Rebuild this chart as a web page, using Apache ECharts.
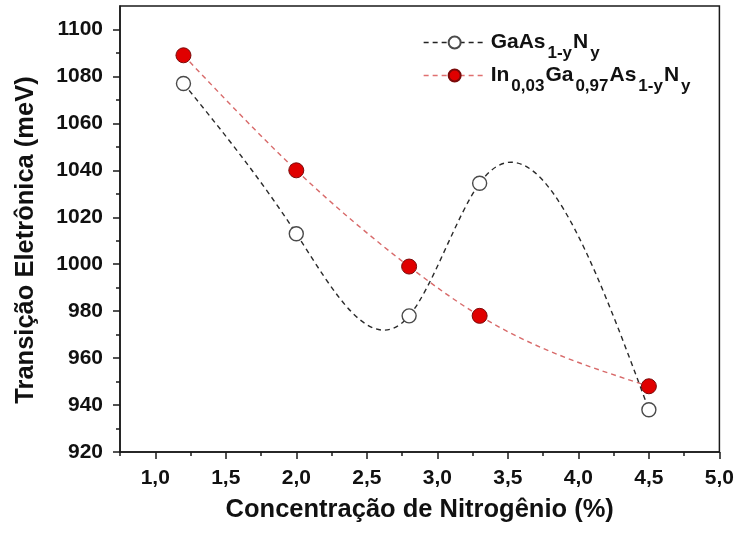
<!DOCTYPE html>
<html>
<head>
<meta charset="utf-8">
<script src="https://cdn.jsdelivr.net/npm/echarts@6/dist/echarts.min.js"></script>
<style>
html, body { margin: 0; padding: 0; background: #fff; }
#chart { width: 737px; height: 538px; }
</style>
</head>
<body>
<div id="chart"></div>
<script>
// Nitrogen concentration (%) and electronic transition energies (meV)
const nitrogen = [1.2, 2.0, 2.8, 3.3, 4.5];
const gaAsN = [1077, 1013, 978, 1034.5, 938];
const inGaAsN = [1089, 1040, 999, 978, 948];

const seriesNames = ['GaAsN', 'InGaAsN'];

// Axis ticks
const xTicks = [1.0, 1.5, 2.0, 2.5, 3.0, 3.5, 4.0, 4.5, 5.0];
const xMinorTicks = [0.75, 1.25, 1.75, 2.25, 2.75, 3.25, 3.75, 4.25, 4.75];
const yTicks = [920, 940, 960, 980, 1000, 1020, 1040, 1060, 1080, 1100];
const yMinorTicks = [930, 950, 970, 990, 1010, 1030, 1050, 1070, 1090];

const FONT = '"Liberation Sans", Arial, sans-serif';

// Endpoint slopes of a natural cubic spline through (xs, ys)
function splineSlopes(xs, ys) {
  const n = xs.length;
  const h = [], d = [];
  for (let i = 0; i < n - 1; i++) {
    h[i] = xs[i + 1] - xs[i];
    d[i] = (ys[i + 1] - ys[i]) / h[i];
  }
  const M = new Array(n).fill(0);
  const m = n - 2;
  if (m > 0) {
    const a = [], b = [], c = [], r = [];
    for (let k = 0; k < m; k++) {
      const i = k + 1;
      a[k] = h[i - 1];
      b[k] = 2 * (h[i - 1] + h[i]);
      c[k] = h[i];
      r[k] = 6 * (d[i] - d[i - 1]);
    }
    for (let k = 1; k < m; k++) {
      const w = a[k] / b[k - 1];
      b[k] -= w * c[k - 1];
      r[k] -= w * r[k - 1];
    }
    const sol = new Array(m);
    sol[m - 1] = r[m - 1] / b[m - 1];
    for (let k = m - 2; k >= 0; k--) sol[k] = (r[k] - c[k] * sol[k + 1]) / b[k];
    for (let k = 0; k < m; k++) M[k + 1] = sol[k];
  }
  const s = [];
  for (let i = 0; i < n - 1; i++) s[i] = d[i] - h[i] * (2 * M[i] + M[i + 1]) / 6;
  s[n - 1] = d[n - 2] + h[n - 2] * (M[n - 2] + 2 * M[n - 1]) / 6;
  return s;
}

// Dashed spline curve drawn through the data points, as a custom series
function curveSeries(name, ys, color, width) {
  const slopes = splineSlopes(nitrogen, ys);
  return {
    name: name + '-curve',
    type: 'custom',
    z: 1,
    silent: true,
    data: nitrogen.map((x, i) => [x, ys[i]]),
    encode: { x: 0, y: 1 },
    renderItem: function (params, api) {
      if (params.dataIndex !== 0) return null;
      const children = [];
      for (let i = 0; i < nitrogen.length - 1; i++) {
        const x0 = nitrogen[i], x1 = nitrogen[i + 1];
        const h = x1 - x0;
        const p0 = api.coord([x0, ys[i]]);
        const c1 = api.coord([x0 + h / 3, ys[i] + slopes[i] * h / 3]);
        const c2 = api.coord([x1 - h / 3, ys[i + 1] - slopes[i + 1] * h / 3]);
        const p1 = api.coord([x1, ys[i + 1]]);
        children.push({
          type: 'bezierCurve',
          shape: {
            x1: p0[0], y1: p0[1],
            cpx1: c1[0], cpy1: c1[1],
            cpx2: c2[0], cpy2: c2[1],
            x2: p1[0], y2: p1[1]
          },
          style: { stroke: color, lineWidth: width, lineDash: [5, 4], fill: null }
        });
      }
      return { type: 'group', children: children };
    }
  };
}

const chart = echarts.init(document.getElementById('chart'), null, { renderer: 'canvas' });

const axisLineStyle = { color: '#1a1a1a', width: 1.5 };
const labelStyle = { color: '#111', fontFamily: FONT, fontWeight: 'bold', fontSize: 21 };
const titleStyle = { color: '#111', fontFamily: FONT, fontWeight: 'bold', fontSize: 25.5 };

chart.setOption({
  backgroundColor: '#ffffff',
  animation: false,
  grid: {
    left: 120, right: 16, top: 6, bottom: 86,
    show: true, borderColor: '#1a1a1a', borderWidth: 1.5, backgroundColor: 'transparent'
  },
  legend: {
    orient: 'vertical',
    left: 423,
    top: 23,
    padding: 0,
    itemWidth: 62,
    itemHeight: 15,
    itemGap: -6,
    selectedMode: false,
    data: [
      { name: seriesNames[0], lineStyle: { color: '#222', width: 1.3, type: [5, 4], opacity: 1 } },
      { name: seriesNames[1], lineStyle: { color: '#e07070', width: 1.3, type: [5, 4], opacity: 1 } }
    ],
    formatter: function (name) {
      if (name === seriesNames[0]) return '{b|GaAs}{s|1-y}{b|N}{s|y}';
      return '{b|In}{s|0,03}{b|Ga}{s|0,97}{b|As}{s|1-y}{b|N}{s|y}';
    },
    textStyle: {
      color: '#111',
      rich: {
        b: { fontFamily: FONT, fontWeight: 'bold', fontSize: 21, lineHeight: 24, verticalAlign: 'middle', color: '#111' },
        s: { fontFamily: FONT, fontWeight: 'bold', fontSize: 17, lineHeight: 24, verticalAlign: 'middle', padding: [22, 1, 0, 2], color: '#111' }
      }
    }
  },
  xAxis: [
    {
      type: 'value',
      min: 0.75, max: 5.0,
      name: 'Concentração de Nitrogênio (%)',
      nameLocation: 'middle',
      nameGap: 45,
      nameTextStyle: titleStyle,
      axisLine: { show: true, onZero: false, lineStyle: axisLineStyle },
      axisTick: { show: true, inside: false, length: 7, customValues: xTicks, lineStyle: axisLineStyle },
      axisLabel: Object.assign({ margin: 16, customValues: xTicks, formatter: v => v.toFixed(1).replace('.', ',') }, labelStyle),
      splitLine: { show: false }
    },
    {
      type: 'value',
      min: 0.75, max: 5.0,
      position: 'bottom',
      axisLine: { show: false },
      axisTick: { show: true, inside: false, length: 4, customValues: xMinorTicks, lineStyle: axisLineStyle },
      axisLabel: { show: false },
      splitLine: { show: false }
    }
  ],
  yAxis: [
    {
      type: 'value',
      min: 920, max: 1110,
      name: 'Transição Eletrônica (meV)',
      nameLocation: 'middle',
      nameGap: 81,
      nameTextStyle: Object.assign({ padding: [0, 22, 0, 0] }, titleStyle),
      axisLine: { show: true, onZero: false, lineStyle: axisLineStyle },
      axisTick: { show: true, inside: false, length: 7, customValues: yTicks, lineStyle: axisLineStyle },
      axisLabel: Object.assign({ margin: 17, customValues: yTicks, formatter: v => String(v) }, labelStyle),
      splitLine: { show: false }
    },
    {
      type: 'value',
      min: 920, max: 1110,
      position: 'left',
      axisLine: { show: false },
      axisTick: { show: true, inside: false, length: 4, customValues: yMinorTicks, lineStyle: axisLineStyle },
      axisLabel: { show: false },
      splitLine: { show: false }
    }
  ],
  series: [
    curveSeries(seriesNames[0], gaAsN, '#2a2a2a', 1.4),
    curveSeries(seriesNames[1], inGaAsN, '#d86a6a', 1.4),
    {
      name: seriesNames[0],
      type: 'line',
      z: 3,
      data: nitrogen.map((x, i) => [x, gaAsN[i]]),
      symbol: 'circle',
      symbolSize: 14,
      lineStyle: { width: 0, opacity: 0 },
      itemStyle: { color: '#ffffff', borderColor: '#4a4a4a', borderWidth: 1.4, opacity: 1 }
    },
    {
      name: seriesNames[1],
      type: 'line',
      z: 3,
      data: nitrogen.map((x, i) => [x, inGaAsN[i]]),
      symbol: 'circle',
      symbolSize: 15,
      lineStyle: { width: 0, opacity: 0 },
      itemStyle: { color: '#e00000', borderColor: '#7a0a0a', borderWidth: 1, opacity: 1 }
    }
  ]
});
</script>
</body>
</html>
